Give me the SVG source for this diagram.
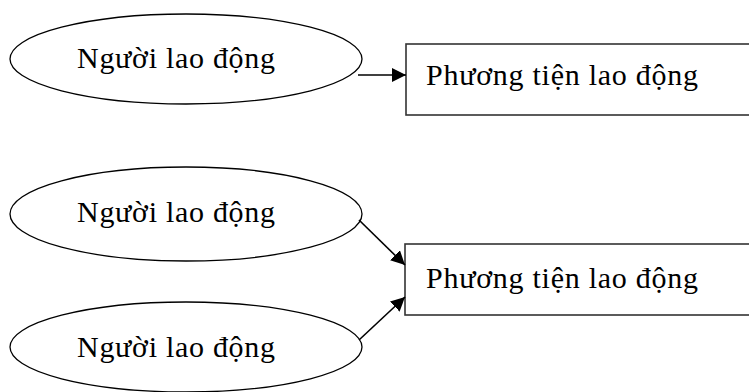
<svg xmlns="http://www.w3.org/2000/svg" width="749" height="392" viewBox="0 0 749 392">
<style>
.el{fill:#fff;stroke:#000;stroke-width:1.3}
.bx{fill:#fff;stroke:#333;stroke-width:1.6}
.t{font-family:"Liberation Serif","Times New Roman",serif;font-size:30px;fill:#000}
.c{stroke:#000;stroke-width:1.6;fill:none}
</style>
<defs>
<marker id="ah" markerUnits="userSpaceOnUse" markerWidth="16" markerHeight="16" refX="14" refY="7" orient="auto">
<path d="M0,0 L14,7 L0,14 Z" fill="#000"/>
</marker>
</defs>
<rect width="749" height="392" fill="#fff"/>
<g id="n1"><ellipse class="el" cx="186" cy="59" rx="176" ry="45"/><text class="t" x="77" y="68" textLength="198" lengthAdjust="spacing">Người lao động</text></g>
<g id="n2"><rect class="bx" x="406" y="44" width="360" height="71"/><text class="t" x="426" y="85" textLength="272" lengthAdjust="spacing">Phương tiện lao động</text></g>
<g id="n3"><ellipse class="el" cx="186" cy="214" rx="176" ry="47"/><text class="t" x="77" y="222" textLength="198" lengthAdjust="spacing">Người lao động</text></g>
<g id="n4"><ellipse class="el" cx="186" cy="347" rx="176" ry="45"/><text class="t" x="77" y="357" textLength="198" lengthAdjust="spacing">Người lao động</text></g>
<g id="n5"><rect class="bx" x="405" y="244" width="360" height="71"/><text class="t" x="426" y="288" textLength="272" lengthAdjust="spacing">Phương tiện lao động</text></g>
<g id="connectors">
<line class="c" x1="358" y1="75" x2="406" y2="75" marker-end="url(#ah)"/>
<line class="c" x1="359" y1="220" x2="405" y2="265" marker-end="url(#ah)"/>
<line class="c" x1="359" y1="340" x2="405" y2="297" marker-end="url(#ah)"/>
</g>
</svg>
